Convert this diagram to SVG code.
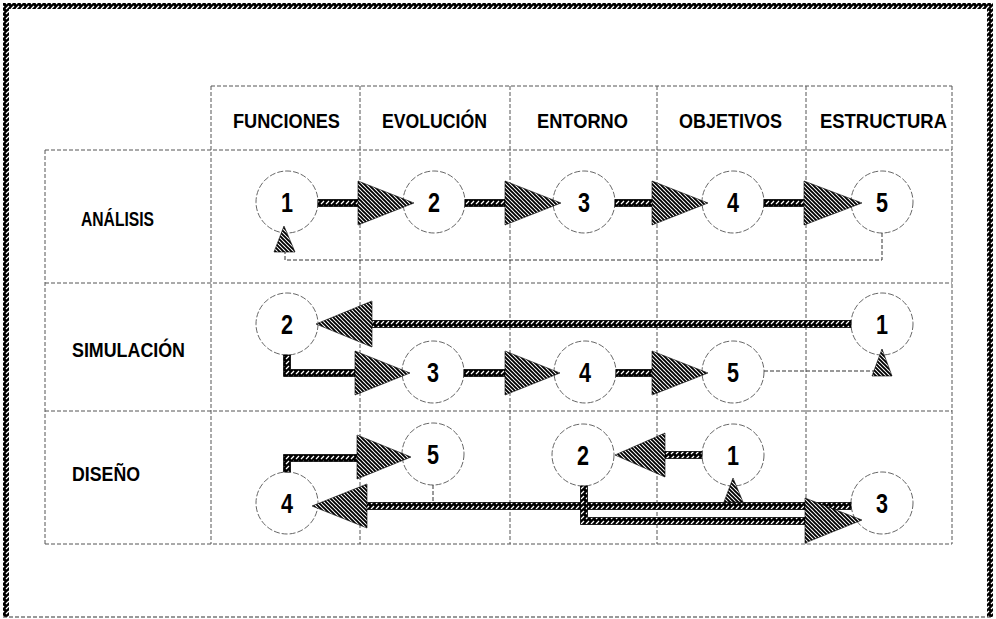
<svg xmlns="http://www.w3.org/2000/svg" width="996" height="619" viewBox="0 0 996 619">
<defs>
<pattern id="hatch" patternUnits="userSpaceOnUse" width="4" height="4">
<rect width="4" height="4" fill="#fff"/>
<path d="M-1,-1 L5,5 M-1,3 L1,5 M3,-1 L5,1" stroke="#000" stroke-width="1.9"/>
</pattern>
<pattern id="rope" patternUnits="userSpaceOnUse" width="5" height="5">
<rect width="5" height="5" fill="#000"/>
<path d="M1,4 L4,1" stroke="#fff" stroke-width="1.2"/>
</pattern>
</defs>
<style>
.grid{stroke:#555;stroke-width:1;stroke-dasharray:4 2;fill:none}
.circ{fill:none;stroke:#666;stroke-width:1;stroke-dasharray:6 2}
.lbl{font-family:"Liberation Sans",Arial,sans-serif;font-weight:bold;font-size:21px;fill:#000}
.num{font-family:"Liberation Sans",Arial,sans-serif;font-weight:bold;font-size:27px;fill:#000;text-anchor:middle}
.shaft{fill:url(#rope);stroke:#000;stroke-width:0.8}
.head{fill:url(#hatch);stroke:#000;stroke-width:0.6}
.thin{fill:none;stroke:#333;stroke-width:1;stroke-dasharray:4 2}
.band{fill:url(#rope)}
</style>
<rect width="996" height="619" fill="#fff"/>
<g id="frame">
<rect class="band" x="3" y="3" width="990" height="6"/>
<rect class="band" x="3" y="3" width="6" height="614"/>
<rect class="band" x="987" y="3" width="6" height="614"/>
<line class="thin" x1="3" y1="617" x2="993" y2="617"/>
</g>
<g id="grid">
<line class="grid" x1="211" y1="86" x2="952" y2="86"/>
<line class="grid" x1="45" y1="150" x2="952" y2="150"/>
<line class="grid" x1="45" y1="283" x2="952" y2="283"/>
<line class="grid" x1="45" y1="411" x2="952" y2="411"/>
<line class="grid" x1="45" y1="544" x2="952" y2="544"/>
<line class="grid" x1="45" y1="150" x2="45" y2="544"/>
<line class="grid" x1="211" y1="86" x2="211" y2="544"/>
<line class="grid" x1="360" y1="86" x2="360" y2="544"/>
<line class="grid" x1="510" y1="86" x2="510" y2="544"/>
<line class="grid" x1="657" y1="86" x2="657" y2="544"/>
<line class="grid" x1="806" y1="86" x2="806" y2="544"/>
<line class="grid" x1="952" y1="86" x2="952" y2="544"/>
</g>
<g id="headers">
<text class="lbl" x="233" y="128" textLength="107" lengthAdjust="spacingAndGlyphs">FUNCIONES</text>
<text class="lbl" x="382" y="128" textLength="105" lengthAdjust="spacingAndGlyphs">EVOLUCIÓN</text>
<text class="lbl" x="537" y="128" textLength="91" lengthAdjust="spacingAndGlyphs">ENTORNO</text>
<text class="lbl" x="679" y="128" textLength="103" lengthAdjust="spacingAndGlyphs">OBJETIVOS</text>
<text class="lbl" x="820" y="128" textLength="127" lengthAdjust="spacingAndGlyphs">ESTRUCTURA</text>
<text class="lbl" x="81" y="226" textLength="73" lengthAdjust="spacingAndGlyphs">ANÁLISIS</text>
<text class="lbl" x="72" y="357" textLength="113" lengthAdjust="spacingAndGlyphs">SIMULACIÓN</text>
<text class="lbl" x="72" y="481" textLength="68" lengthAdjust="spacingAndGlyphs">DISEÑO</text>
</g>
<g id="a1"><circle class="circ" cx="287" cy="202" r="31"/><text class="num" transform="translate(287,212) scale(0.8,1)">1</text></g>
<g id="a2"><circle class="circ" cx="434" cy="202" r="31"/><text class="num" transform="translate(434,212) scale(0.8,1)">2</text></g>
<g id="a3"><circle class="circ" cx="584" cy="202" r="31"/><text class="num" transform="translate(584,212) scale(0.8,1)">3</text></g>
<g id="a4"><circle class="circ" cx="733" cy="202" r="31"/><text class="num" transform="translate(733,212) scale(0.8,1)">4</text></g>
<g id="a5"><circle class="circ" cx="882" cy="202" r="31"/><text class="num" transform="translate(882,212) scale(0.8,1)">5</text></g>
<g id="s1"><circle class="circ" cx="882" cy="324" r="31"/><text class="num" transform="translate(882,334) scale(0.8,1)">1</text></g>
<g id="s2"><circle class="circ" cx="287" cy="324" r="31"/><text class="num" transform="translate(287,334) scale(0.8,1)">2</text></g>
<g id="s3"><circle class="circ" cx="433" cy="372" r="31"/><text class="num" transform="translate(433,382) scale(0.8,1)">3</text></g>
<g id="s4"><circle class="circ" cx="585" cy="372" r="31"/><text class="num" transform="translate(585,382) scale(0.8,1)">4</text></g>
<g id="s5"><circle class="circ" cx="733" cy="372" r="31"/><text class="num" transform="translate(733,382) scale(0.8,1)">5</text></g>
<g id="d1"><circle class="circ" cx="733" cy="455" r="31"/><text class="num" transform="translate(733,465) scale(0.8,1)">1</text></g>
<g id="d2"><circle class="circ" cx="583" cy="455" r="31"/><text class="num" transform="translate(583,465) scale(0.8,1)">2</text></g>
<g id="d3"><circle class="circ" cx="882" cy="503" r="31"/><text class="num" transform="translate(882,513) scale(0.8,1)">3</text></g>
<g id="d4"><circle class="circ" cx="287" cy="503" r="31"/><text class="num" transform="translate(287,513) scale(0.8,1)">4</text></g>
<g id="d5"><circle class="circ" cx="433" cy="454" r="31"/><text class="num" transform="translate(433,464) scale(0.8,1)">5</text></g>
<g id="connectors">
<path class="thin" d="M882,233 V260 H285 V250"/>
<polygon class="head" points="274,252 284,226 295,252"/>
<path class="thin" d="M764,371 H880"/>
<polygon class="head" points="872,376 882,349 892,376"/>
<path class="thin" d="M433,485 V506 H733"/>
<rect class="shaft" x="318" y="199.5" width="42" height="7"/>
<polygon class="head" points="358,181 414,203 358,225"/>
<rect class="shaft" x="465" y="199.5" width="41" height="7"/>
<polygon class="head" points="505,181 561,203 505,225"/>
<rect class="shaft" x="615" y="199.5" width="38" height="7"/>
<polygon class="head" points="652,181 708,203 652,225"/>
<rect class="shaft" x="764" y="199.5" width="41" height="7"/>
<polygon class="head" points="804,181 862,203 804,225"/>
<rect class="shaft" x="370" y="320.5" width="481" height="7"/>
<polygon class="head" points="372,301 316,324 372,347"/>
<polygon class="shaft" points="283.5,355 290.5,355 290.5,369.5 357,369.5 357,376.5 283.5,376.5"/>
<polygon class="head" points="355,351 410,373 355,395"/>
<rect class="shaft" x="464" y="369.5" width="42" height="7"/>
<polygon class="head" points="505,351 560,373 505,395"/>
<rect class="shaft" x="616" y="369.5" width="37" height="7"/>
<polygon class="head" points="652,351 708,373 652,395"/>
<polygon class="shaft" points="283.5,472 290.5,472 290.5,461.5 358,461.5 358,454.5 283.5,454.5"/>
<polygon class="head" points="357,435 411,457 357,479"/>
<rect class="shaft" x="664" y="451.5" width="38" height="7"/>
<polygon class="head" points="665,433 615,455 665,477"/>
<rect class="shaft" x="366" y="502.5" width="485" height="7"/>
<polygon class="head" points="367,484 312,506 367,528"/>
<polygon class="shaft" points="580.5,486 587.5,486 587.5,517.5 806,517.5 806,524.5 580.5,524.5"/>
<polygon class="head" points="805,498 862,520 805,543"/>
<polygon class="head" points="724,502 733,478 743,502"/>
</g>
</svg>
